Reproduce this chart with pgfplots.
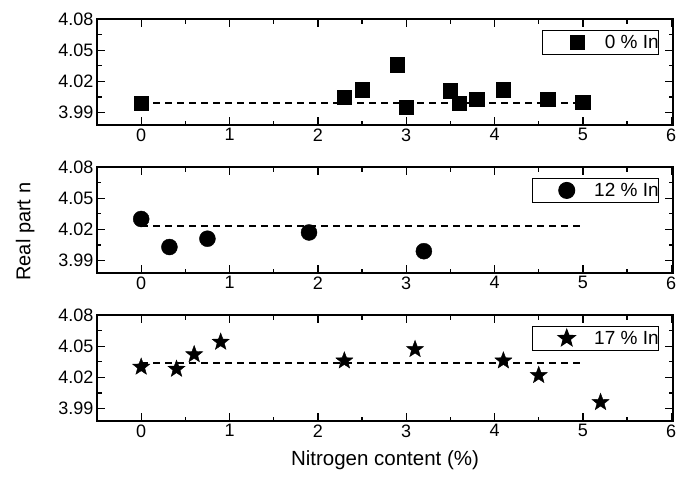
\documentclass[border=0pt]{standalone}
\usepackage{fontspec}
\setmainfont{Liberation Sans}
\usepackage{pgfplots}
\pgfplotsset{compat=1.18}

% filled five-pointed star
\pgfdeclareplotmark{fstar}{%
  \pgfpathmoveto{\pgfqpointpolar{90}{\pgfplotmarksize}}%
  \pgfpathlineto{\pgfqpointpolar{126}{0.42\pgfplotmarksize}}%
  \pgfpathlineto{\pgfqpointpolar{162}{\pgfplotmarksize}}%
  \pgfpathlineto{\pgfqpointpolar{198}{0.42\pgfplotmarksize}}%
  \pgfpathlineto{\pgfqpointpolar{234}{\pgfplotmarksize}}%
  \pgfpathlineto{\pgfqpointpolar{270}{0.42\pgfplotmarksize}}%
  \pgfpathlineto{\pgfqpointpolar{306}{\pgfplotmarksize}}%
  \pgfpathlineto{\pgfqpointpolar{342}{0.42\pgfplotmarksize}}%
  \pgfpathlineto{\pgfqpointpolar{18}{\pgfplotmarksize}}%
  \pgfpathlineto{\pgfqpointpolar{54}{0.42\pgfplotmarksize}}%
  \pgfpathclose
  \pgfusepathqfillstroke
}

\pgfplotsset{
  panel/.style={
    width=576pt, height=106pt, scale only axis,
    xmin=-0.5, xmax=6.02, ymin=3.978, ymax=4.08,
    xtick={0,1,2,3,4,5,6}, ytick={3.99,4.02,4.05,4.08},
    minor tick num=1,
    tick align=inside, xtick pos=both, ytick pos=both,
    xticklabel pos=lower, yticklabel pos=left,
    major tick length=8pt, minor tick length=4.5pt,
    tick style={black, line width=1.3pt},
    axis line style={line width=1.6pt},
    /pgf/number format/assume math mode=true,
    yticklabel style={/pgf/number format/.cd, fixed, fixed zerofill, precision=2},
    tick label style={font=\fontsize{18}{20}\selectfont},
    legend style={at={(0.976,0.896)}, anchor=north east, draw=black,
      line width=1pt, font=\fontsize{19}{21}\selectfont,
      inner sep=0pt, nodes={inner xsep=0pt, inner ysep=4.5pt}},
    legend image code/.code={\path (0pt,0pt) (61pt,0pt);
      \draw[#1] plot coordinates {(34pt,0pt)};},
  },
  avg/.style={black, dash pattern=on 7pt off 5pt, line width=2pt, forget plot},
}

\begin{document}
\begin{tikzpicture}
\path[use as bounding box] (0pt,0pt) rectangle (681pt,-480pt);

% 0 % In
\begin{axis}[panel, at={(97pt,-19pt)}, anchor=north west]
  \addplot[avg] coordinates {(0,3.999) (5,3.999)};
  \addplot[only marks, mark=square*, mark size=7.2pt, black] coordinates {
    (0,3.999) (2.3,4.005) (2.5,4.012) (2.9,4.036) (3.0,3.995)
    (3.5,4.011) (3.6,3.999) (3.8,4.003) (4.1,4.012) (4.6,4.003) (5.0,4.000)
  };
  \addlegendentry{0 \% In\hspace{11pt}}
\end{axis}

% 12 % In
\begin{axis}[panel, at={(97pt,-167pt)}, anchor=north west,
  ylabel={Real part n}, ylabel shift=17pt,
  ylabel style={at={(ticklabel cs:0.39)}, font=\fontsize{20}{22}\selectfont}]
  \addplot[avg] coordinates {(0,4.023) (5,4.023)};
  \addplot[only marks, mark=*, mark size=8pt, black] coordinates {
    (0,4.030) (0.32,4.003) (0.75,4.011) (1.9,4.017) (3.2,3.999)
  };
  \addlegendentry{12 \% In\hspace{11pt}}
\end{axis}

% 17 % In
\begin{axis}[panel, at={(97pt,-315pt)}, anchor=north west,
  xlabel={Nitrogen content (\%)}, xlabel shift=6pt,
  xlabel style={font=\fontsize{20.5}{22}\selectfont}]
  \addplot[avg] coordinates {(0,4.034) (5,4.034)};
  \addplot[only marks, mark=fstar, mark size=9pt, black] coordinates {
    (0,4.030) (0.4,4.028) (0.6,4.042) (0.9,4.054) (2.3,4.036)
    (3.1,4.047) (4.1,4.036) (4.5,4.022) (5.2,3.996)
  };
  \addlegendentry{17 \% In\hspace{11pt}}
\end{axis}
\end{tikzpicture}
\end{document}
